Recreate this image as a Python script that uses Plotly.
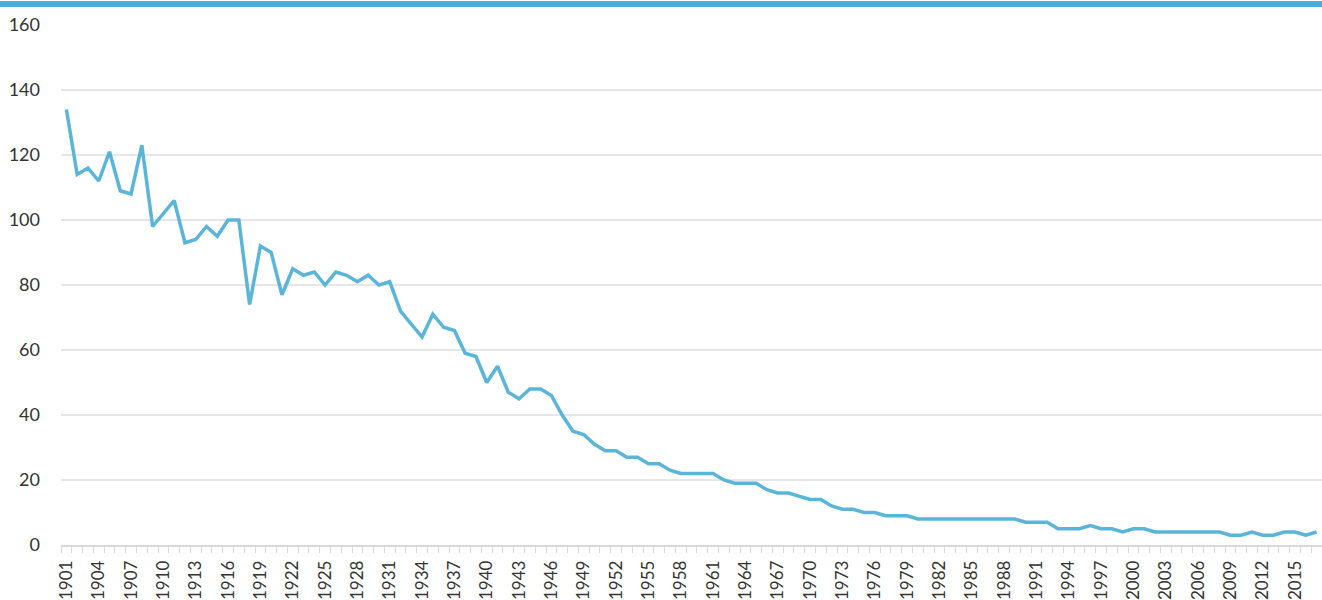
import plotly.graph_objects as go

years = list(range(1901, 2018))
values = [
    134, 114, 116, 112, 121, 109, 108, 123, 98, 102,   # 1901-1910
    106, 93, 94, 98, 95, 100, 100, 74, 92, 90,         # 1911-1920
    77, 85, 83, 84, 80, 84, 83, 81, 83, 80,            # 1921-1930
    81, 72, 68, 64, 71, 67, 66, 59, 58, 50,            # 1931-1940
    55, 47, 45, 48, 48, 46, 40, 35, 34, 31,            # 1941-1950
    29, 29, 27, 27, 25, 25, 23, 22, 22, 22,            # 1951-1960
    22, 20, 19, 19, 19, 17, 16, 16, 15, 14,            # 1961-1970
    14, 12, 11, 11, 10, 10, 9, 9, 9, 8,                # 1971-1980
    8, 8, 8, 8, 8, 8, 8, 8, 8, 7,                      # 1981-1990
    7, 7, 5, 5, 5, 6, 5, 5, 4, 5,                      # 1991-2000
    5, 4, 4, 4, 4, 4, 4, 4, 3, 3,                      # 2001-2010
    4, 3, 3, 4, 4, 3, 4,                               # 2011-2017
]
tick_years = list(range(1901, 2018, 3))
y_ticks = [0, 20, 40, 60, 80, 100, 120, 140, 160]

LINE = "#5bb5d9"
BAR = "#4aabd8"
FONT = "Lato, 'Open Sans', sans-serif"

fig = go.Figure()
fig.add_trace(go.Scatter(
    x=years, y=values, mode="lines",
    line=dict(color=LINE, width=3.5),
    hoverinfo="x+y",
))

fig.update_layout(
    width=1322, height=600,
    margin=dict(l=61, r=0, t=25, b=55, autoexpand=False),
    paper_bgcolor="white", plot_bgcolor="white",
    showlegend=False,
    font=dict(family=FONT, color="#333333"),
    shapes=[dict(type="rect", xref="paper", yref="paper",
                 x0=-0.1, x1=1.1, y0=1 + 18 / 520, y1=1 + 24 / 520,
                 fillcolor=BAR, line=dict(width=0), layer="above")],
)
fig.update_xaxes(
    range=[1900.5, 2017.5], automargin=False,
    tickmode="array", tickvals=tick_years, ticktext=[str(y) for y in tick_years],
    tickangle=-90, ticks="", ticklabelstandoff=7,
    tickfont=dict(size=17, family=FONT, color="#333333"),
    showgrid=False, zeroline=False,
    showline=True, linecolor="#d9d9d9", linewidth=1.5,
    minor=dict(ticks="outside", dtick=1, tick0=0.5, ticklen=6,
               tickcolor="#d9d9d9", tickwidth=1, showgrid=False),
)
fig.update_yaxes(
    range=[0, 160], tickvals=y_ticks, automargin=False,
    tickfont=dict(size=18, family=FONT, color="#333333"),
    showgrid=True, gridcolor="#e6e6e6", gridwidth=1.5,
    zeroline=False, showline=False,
    ticks="", ticklabelstandoff=20,
)

fig.write_html("out.html", config={"displayModeBar": False},
               post_script="document.body.style.margin='0';")
